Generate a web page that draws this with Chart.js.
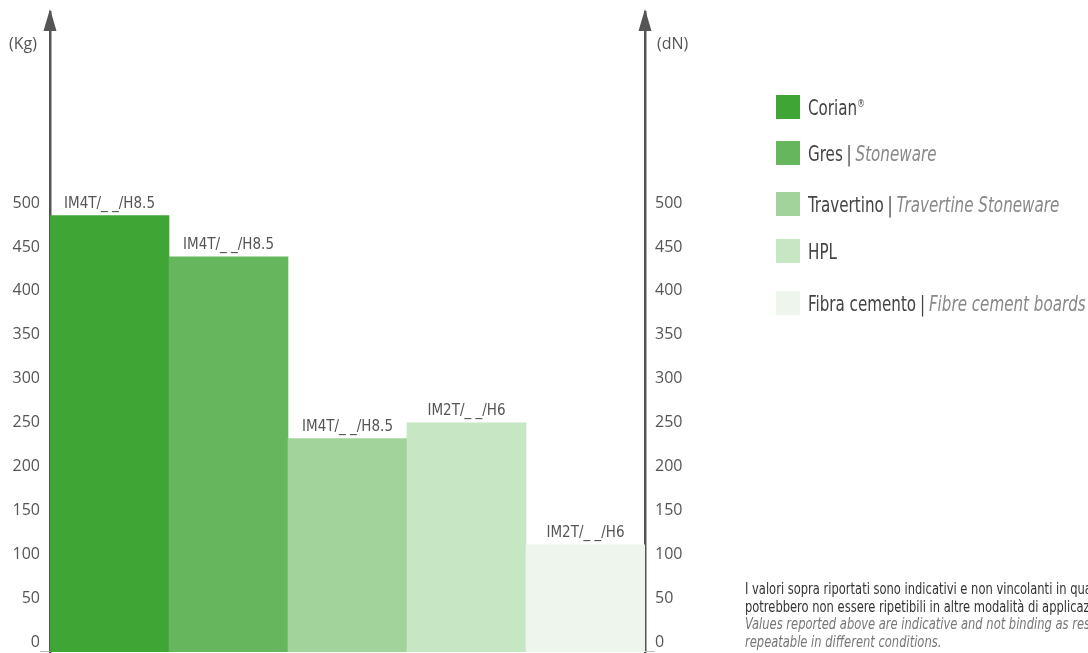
<!DOCTYPE html>
<html>
<head>
<meta charset="utf-8">
<script src="https://cdn.jsdelivr.net/npm/chart.js@4/dist/chart.umd.min.js"></script>
<style>
  html, body { margin:0; padding:0; background:#fff; overflow:hidden; }
  #wrap { position:relative; width:1088px; height:653px; overflow:hidden; }
  #chart { position:absolute; left:0; top:0; }
  .cond { font-family:'Liberation Sans Narrow','DejaVu Sans Condensed','Roboto',sans-serif; }
  #legend { position:absolute; left:776px; top:0; color:#444; font-size:22px; white-space:nowrap; }
  .item { position:absolute; left:0; height:26px; display:flex; align-items:center; }
  .sw { width:24px; height:24px; margin-right:8px; flex:none; }
  .txt { display:inline-block; transform:scaleX(0.765); transform-origin:left center; }
  .it { font-style:italic; color:#888; }
  .sep { color:#444; margin:0 5px; }
  sup { font-size:11px; vertical-align:8px; }
  #note { position:absolute; left:745px; top:580px; font-size:16px; line-height:17.5px; color:#333; white-space:nowrap; transform:scaleX(0.8); transform-origin:left top; }
  #note .en { font-style:italic; color:#777; }
</style>
</head>
<body>
<div id="wrap">
  <canvas id="chart" width="1088" height="653"></canvas>
  <div id="legend" class="cond"></div>
  <div id="note" class="cond">
    <div>I valori sopra riportati sono indicativi e non vincolanti in quanto</div>
    <div>potrebbero non essere ripetibili in altre modalità di applicazione.</div>
    <div class="en">Values reported above are indicative and not binding as results may not be</div>
    <div class="en">repeatable in different conditions.</div>
  </div>
</div>
<script>
// ---- data ----
const categories = ['Corian', 'Gres', 'Travertino', 'HPL', 'Fibra cemento'];
const categoriesEn = ['', 'Stoneware', 'Travertine Stoneware', '', 'Fibre cement boards'];
const values = [497, 450, 243, 261, 122];
const barLabels = ['IM4T/_ _/H8.5', 'IM4T/_ _/H8.5', 'IM4T/_ _/H8.5', 'IM2T/_ _/H6', 'IM2T/_ _/H6'];
const tickValues = [0, 50, 100, 150, 200, 250, 300, 350, 400, 450, 500];
const unitLeft = '(Kg)';
const unitRight = '(dN)';

// ---- styles ----
const colors = ['#3fa535', '#65b65d', '#a1d39b', '#c7e6c3', '#edf5ec'];
const axisColor = '#555555';
const textColor = '#555555';
const condFont = "'Liberation Sans Narrow','DejaVu Sans Condensed','Roboto',sans-serif";

// legend (HTML, from arrays)
const legendTops = [94, 140, 191, 238, 290];
const legend = document.getElementById('legend');
categories.forEach((c, i) => {
  const d = document.createElement('div');
  d.className = 'item';
  d.style.top = legendTops[i] + 'px';
  let html = '<span class="sw" style="background:' + colors[i] + '"></span><span class="txt"><span>' + c + (i === 0 ? '<sup>®</sup>' : '') + '</span>';
  if (categoriesEn[i]) html += '<span class="sep">|</span><span class="it">' + categoriesEn[i] + '</span>';
  html += '</span>';
  d.innerHTML = html;
  legend.appendChild(d);
});

const decor = {
  id: 'decor',
  afterDraw(chart) {
    const ctx = chart.ctx;
    const { top, left, right } = chart.chartArea;
    ctx.save();
    ctx.fillStyle = axisColor;
    [left, right].forEach(x => {
      ctx.beginPath();
      ctx.moveTo(x, top - 3);
      ctx.lineTo(x - 6.5, top + 19);
      ctx.lineTo(x + 6.5, top + 19);
      ctx.closePath();
      ctx.fill();
    });
    ctx.font = "16px 'Open Sans', sans-serif";
    ctx.fillStyle = textColor;
    ctx.textBaseline = 'middle';
    ctx.textAlign = 'center';
    ctx.fillText(unitLeft, left - 27, top + 32);
    ctx.textAlign = 'left';
    ctx.fillText(unitRight, right + 12, top + 32);
    // bar labels
    ctx.font = '15px ' + condFont;
    ctx.textAlign = 'center';
    ctx.textBaseline = 'bottom';
    chart.getDatasetMeta(0).data.forEach((bar, i) => {
      ctx.fillText(barLabels[i], bar.x, bar.y - 4);
    });
    // baseline stubs
    const sy = chart.scales.y.getPixelForValue(0);
    ctx.strokeStyle = '#bbbbbb';
    ctx.lineWidth = 1;
    ctx.beginPath();
    ctx.moveTo(left - 10, sy - 0.5); ctx.lineTo(left, sy - 0.5);
    ctx.moveTo(right, sy - 0.5); ctx.lineTo(right + 10, sy - 0.5);
    ctx.stroke();
    ctx.restore();
  }
};

const yCommon = (pos, width) => ({
  type: 'linear',
  position: pos,
  min: 0,
  max: 729,
  grid: { display: false, drawTicks: false },
  border: { display: true, color: axisColor, width: 2.5 },
  afterBuildTicks: (axis) => { axis.ticks = tickValues.map(v => ({ value: v })); },
  afterFit: (axis) => { axis.width = width; axis.paddingTop = 0; axis.paddingBottom = 0; },
  ticks: {
    padding: 10,
    labelOffset: -10,
    color: textColor,
    font: { family: "'Open Sans', sans-serif", size: 16 },
    autoSkip: false
  }
});

new Chart(document.getElementById('chart'), {
  type: 'bar',
  data: {
    labels: categories,
    datasets: [{
      data: values,
      backgroundColor: colors,
      borderWidth: 0,
      categoryPercentage: 1,
      barPercentage: 1
    }]
  },
  options: {
    responsive: false,
    animation: false,
    layout: { padding: { top: 12, bottom: 1, left: 0, right: 383 } },
    plugins: { legend: { display: false }, tooltip: { enabled: false } },
    scales: {
      x: { display: false, offset: true },
      y: yCommon('left', 50),
      y2: yCommon('right', 60)
    }
  },
  plugins: [decor]
});
</script>
</body>
</html>
